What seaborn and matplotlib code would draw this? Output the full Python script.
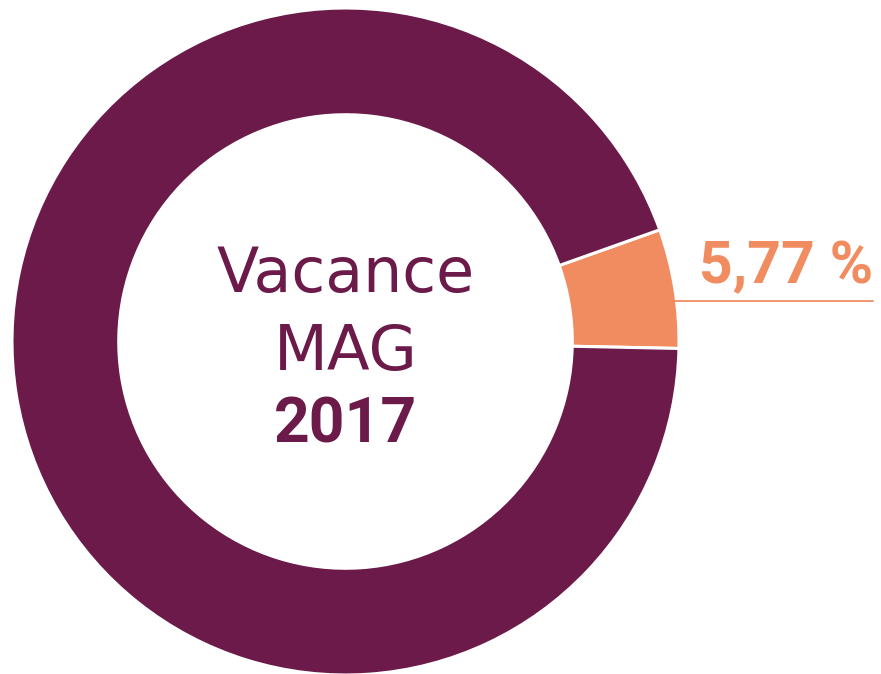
import matplotlib
matplotlib.use("Agg")
import matplotlib.pyplot as plt
import seaborn as sns

# data
categories = ["Vacance", "Occupé"]
shares = [5.77, 94.23]
label_text = "5,77 %"
center_lines = ["Vacance", "MAG", "2017"]

purple = "#6b1a49"
orange = "#f08c60"

sns.set_theme(style="white")
plt.rcParams['font.family'] = ['DejaVu Sans']

fig = plt.figure(figsize=(8.81, 6.74), dpi=100)
# donut centred at (345.5, 341.5) px, radius 333.5 px
ax = fig.add_axes([12 / 881, -1 / 674, 667 / 881, 667 / 674])

wedges, _ = ax.pie(shares, colors=[orange, purple], startangle=-1.2,
                   counterclock=True, radius=1.0,
                   wedgeprops=dict(width=0.32, edgecolor="white", linewidth=2.2))
for w in wedges:
    w.set_clip_on(False)

ax.set_xlim(-1, 1)
ax.set_ylim(-1, 1)
ax.set_aspect("equal")
ax.axis("off")

# label with underline
ax.plot([0.988, 1.582], [0.121, 0.121], color=orange, lw=1.3, clip_on=False)
ax.text(1.582, 0.175, label_text, color=orange, fontsize=42.5, fontweight="bold",
        family=["Roboto", "DejaVu Sans"], ha="right", va="baseline", clip_on=False)

# centre text
ax.text(0.0, 0.148, center_lines[0], color=purple, fontsize=44.5, ha="center", va="baseline")
ax.text(0.0, -0.085, center_lines[1], color=purple, fontsize=45, ha="center", va="baseline")
ax.text(0.0, -0.304, center_lines[2], color=purple, fontsize=45, fontweight="bold",
        family=["Roboto", "DejaVu Sans"], ha="center", va="baseline")

fig.savefig("out.png", dpi=100)
